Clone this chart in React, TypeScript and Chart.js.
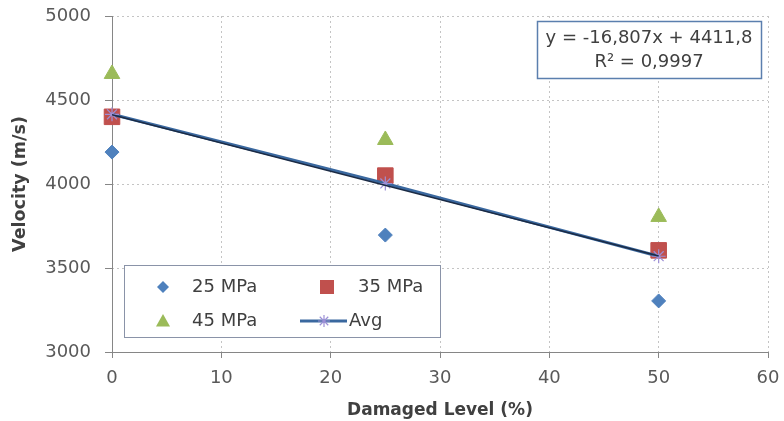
import React, { useEffect, useRef } from "react";
import { Chart, registerables } from "chart.js";

Chart.register(...registerables);

const damageLevels = [0, 25, 50];
const mpa25 = [4190, 3696, 3304];
const mpa35 = [4400, 4050, 3605];
const mpa45 = [4655, 4262, 3804];
const avgValues = [4415, 4003, 3570];
const trendSlope = -16.807;
const trendIntercept = 4411.8;
const trendRange = [0, 50];
const xTicks = [0, 10, 20, 30, 40, 50, 60];
const yTicks = [3000, 3500, 4000, 4500, 5000];
const equationLines = ["y = -16,807x + 4411,8", "R² = 0,9997"];
const legendLabels = ["25 MPa", "35 MPa", "45 MPa", "Avg"];

const BLUE = "#4F81BD";
const RED = "#C0504D";
const GREEN = "#9BBB59";
const LAV = "#9C8FD6";
const LINE = "#3A689F";
const TREND = "#1B2B45";
const FONT = "'DejaVu Sans', sans-serif";

function pts(vals: number[]) {
  return damageLevels.map((x, i) => ({ x, y: vals[i] }));
}

function drawMarker(ctx: CanvasRenderingContext2D, kind: string, x: number, y: number, r: number, color: string) {
  ctx.save();
  ctx.fillStyle = color;
  ctx.strokeStyle = color;
  ctx.beginPath();
  if (kind === "diamond") {
    ctx.moveTo(x, y - r);
    ctx.lineTo(x + r, y);
    ctx.lineTo(x, y + r);
    ctx.lineTo(x - r, y);
    ctx.closePath();
    ctx.fill();
  } else if (kind === "square") {
    ctx.rect(x - r, y - r, 2 * r, 2 * r);
    ctx.fill();
  } else if (kind === "triangle") {
    ctx.moveTo(x, y - r);
    ctx.lineTo(x + r, y + r * 0.8);
    ctx.lineTo(x - r, y + r * 0.8);
    ctx.closePath();
    ctx.fill();
  } else if (kind === "star") {
    ctx.lineWidth = 1.2;
    for (let k = 0; k < 4; k++) {
      const a = (k * Math.PI) / 4;
      ctx.moveTo(x - Math.cos(a) * r, y - Math.sin(a) * r);
      ctx.lineTo(x + Math.cos(a) * r, y + Math.sin(a) * r);
    }
    ctx.stroke();
  }
  ctx.restore();
}

const overlayPlugin = {
  id: "overlay",
  beforeDatasetsDraw(chart: any) {
    const ctx: CanvasRenderingContext2D = chart.ctx;
    const a = chart.chartArea;
    ctx.save();
    ctx.setLineDash([]);
    ctx.strokeStyle = "#868686";
    ctx.lineWidth = 1;
    ctx.beginPath();
    ctx.moveTo(Math.round(a.left) + 0.5, a.top);
    ctx.lineTo(Math.round(a.left) + 0.5, a.bottom);
    ctx.moveTo(a.left, Math.round(a.bottom) + 0.5);
    ctx.lineTo(a.right, Math.round(a.bottom) + 0.5);
    ctx.stroke();
    ctx.restore();
  },
  afterDraw(chart: any) {
    const ctx: CanvasRenderingContext2D = chart.ctx;
    const lx = 124, ly = 265, lw = 316, lh = 72;
    ctx.save();
    ctx.fillStyle = "#FFFFFF";
    ctx.fillRect(lx, ly, lw, lh);
    ctx.strokeStyle = "#8A93A8";
    ctx.lineWidth = 1;
    ctx.strokeRect(lx + 0.5, ly + 0.5, lw, lh);
    ctx.font = `18px ${FONT}`;
    ctx.fillStyle = "#404040";
    ctx.textBaseline = "middle";
    ctx.textAlign = "left";
    const r1 = 287, r2 = 321;
    drawMarker(ctx, "diamond", 163, r1, 6, BLUE);
    ctx.fillText(legendLabels[0], 192, r1);
    drawMarker(ctx, "square", 327, r1, 7, RED);
    ctx.fillText(legendLabels[1], 358, r1);
    drawMarker(ctx, "triangle", 163, r2, 7, GREEN);
    ctx.fillText(legendLabels[2], 192, r2);
    ctx.strokeStyle = LINE;
    ctx.lineWidth = 3;
    ctx.beginPath();
    ctx.moveTo(300, r2);
    ctx.lineTo(347, r2);
    ctx.stroke();
    drawMarker(ctx, "star", 324, r2, 6, LAV);
    ctx.fillText(legendLabels[3], 349, r2);

    const ex = 537, ey = 21, ew = 224, eh = 57;
    ctx.fillStyle = "#FFFFFF";
    ctx.fillRect(ex, ey, ew, eh);
    ctx.strokeStyle = "#5B7FAE";
    ctx.lineWidth = 1.5;
    ctx.strokeRect(ex + 0.5, ey + 0.5, ew, eh);
    ctx.fillStyle = "#404040";
    ctx.textAlign = "center";
    ctx.font = `18px ${FONT}`;
    ctx.fillText(equationLines[0], ex + ew / 2, 38);
    ctx.fillText(equationLines[1], ex + ew / 2, 62);
    ctx.restore();
  },
};

export default function App() {
  const ref = useRef<HTMLCanvasElement | null>(null);
  useEffect(() => {
    if (!ref.current) return;
    const trendPts = trendRange.map((x) => ({ x, y: trendIntercept + trendSlope * x }));
    const chart = new Chart(ref.current, {
      type: "scatter",
      data: {
        datasets: [
          {
            label: "trend",
            data: trendPts,
            showLine: true,
            borderColor: TREND,
            borderWidth: 1.5,
            pointRadius: 0,
            order: 1,
          } as any,
          {
            label: legendLabels[3],
            data: pts(avgValues),
            showLine: true,
            borderColor: LINE,
            borderWidth: 3,
            pointStyle: "star",
            pointRadius: 7,
            pointBorderColor: LAV,
            pointBackgroundColor: LAV,
            pointBorderWidth: 1.2,
            clip: false,
            order: 2,
          } as any,
          {
            label: legendLabels[0],
            data: pts(mpa25),
            pointStyle: "rectRot",
            pointRadius: 7,
            backgroundColor: BLUE,
            borderColor: BLUE,
            clip: false,
            order: 5,
          } as any,
          {
            label: legendLabels[1],
            data: pts(mpa35),
            pointStyle: "rect",
            pointRadius: 11,
            backgroundColor: RED,
            borderColor: RED,
            clip: false,
            order: 4,
          } as any,
          {
            label: legendLabels[2],
            data: pts(mpa45),
            pointStyle: "triangle",
            pointRadius: 9,
            backgroundColor: GREEN,
            borderColor: GREEN,
            clip: false,
            order: 3,
          } as any,
        ],
      },
      options: {
        animation: false,
        responsive: true,
        maintainAspectRatio: false,
        layout: { padding: { top: 16, right: 16, left: 0, bottom: 0 } },
        plugins: { legend: { display: false }, tooltip: { enabled: false } },
        scales: {
          x: {
            type: "linear",
            min: xTicks[0],
            max: xTicks[xTicks.length - 1],
            afterBuildTicks: (s: any) => {
              s.ticks = xTicks.map((v) => ({ value: v }));
            },
            afterFit: (s: any) => {
              s.height = 69;
              s.paddingLeft = 0;
              s.paddingRight = 0;
              s.paddingTop = 0;
              s.paddingBottom = 0;
            },
            ticks: {
              callback: (v: any) => String(v),
              font: { family: FONT, size: 18 },
              color: "#595959",
              padding: 10,
              maxRotation: 0,
            },
            grid: {
              color: "#C4C4C4",
              tickBorderDash: [],
              tickColor: "#868686",
              tickLength: 6,
            } as any,
            border: { display: false, dash: [2, 3] },
            title: {
              display: true,
              text: "Damaged Level (%)",
              font: { family: FONT, size: 17, weight: "bold" },
              color: "#404040",
              padding: { top: 0, bottom: 0 },
            },
          },
          y: {
            type: "linear",
            min: yTicks[0],
            max: yTicks[yTicks.length - 1],
            afterBuildTicks: (s: any) => {
              s.ticks = yTicks.map((v) => ({ value: v }));
            },
            afterFit: (s: any) => {
              s.width = 112;
              s.paddingLeft = 0;
              s.paddingRight = 0;
              s.paddingTop = 0;
              s.paddingBottom = 0;
            },
            ticks: {
              callback: (v: any) => String(v),
              font: { family: FONT, size: 18 },
              color: "#595959",
              padding: 14,
            },
            grid: {
              color: "#C4C4C4",
              tickBorderDash: [],
              tickColor: "#868686",
              tickLength: 7,
            } as any,
            border: { display: false, dash: [2, 3] },
            title: {
              display: true,
              text: "Velocity (m/s)",
              font: { family: FONT, size: 17.5, weight: "bold" },
              color: "#404040",
              padding: { top: 10, bottom: 0 },
            },
          },
        },
      },
      plugins: [overlayPlugin],
    });
    return () => chart.destroy();
  }, []);
  return (
    <div style={{ position: "fixed", left: 0, top: 0, width: 784, height: 421, background: "#fff" }}>
      <canvas ref={ref} />
    </div>
  );
}
